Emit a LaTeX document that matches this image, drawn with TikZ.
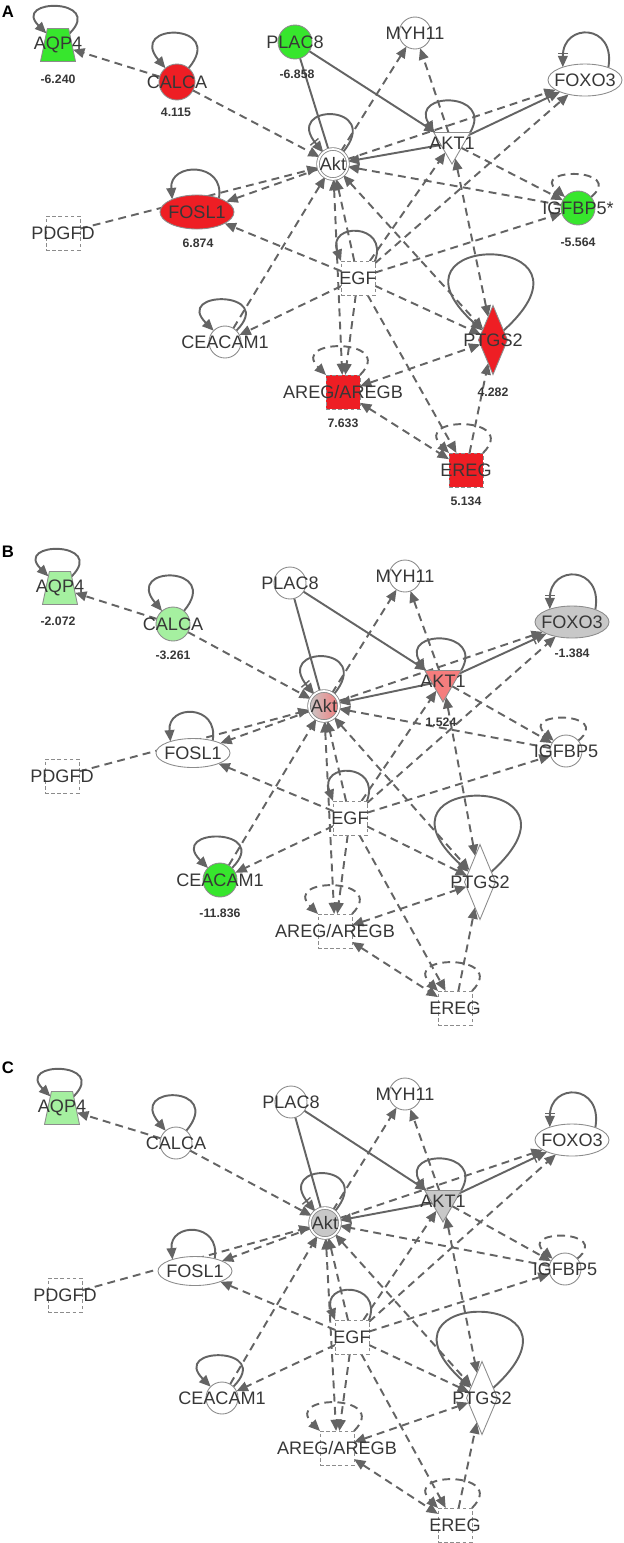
\documentclass[tikz,border=0pt]{standalone}
\usepackage{fontspec}
\setmainfont{Liberation Sans}
\usetikzlibrary{shapes.geometric,arrows.meta}
\definecolor{linkgray}{RGB}{100,100,100}
\definecolor{rimgray}{RGB}{140,140,140}
\definecolor{txtgray}{RGB}{55,55,55}
\definecolor{upred}{RGB}{238,30,36}
\definecolor{downgreen}{RGB}{55,230,45}
\definecolor{palegreen}{RGB}{165,240,160}
\definecolor{palered}{RGB}{245,125,125}
\definecolor{midgray}{RGB}{200,200,200}
\pgfdeclarelayer{links}
\pgfsetlayers{links,main}
\tikzset{gene/.style={draw=rimgray,line width=.5pt,fill=white,inner sep=0pt,outer sep=0pt},
 gname/.style={font=\fontsize{10.3}{12}\selectfont,text=txtgray,inner sep=0pt},
 gval/.style={font=\bfseries\fontsize{7}{8}\selectfont,text=txtgray,inner sep=0pt},
 circ/.style={gene,circle,minimum size=0.68cm},
 oval/.style={gene,ellipse,minimum width=1.48cm,minimum height=0.64cm},
 sqbox/.style={gene,rectangle,dash pattern=on 2pt off 1.5pt,minimum size=0.68cm},
 tri/.style={gene,regular polygon,regular polygon sides=3,shape border rotate=180,minimum size=0.84cm},
 dia/.style={gene,diamond,minimum width=0.58cm,minimum height=1.38cm},
 trap/.style={gene,trapezium,inner sep=1pt,trapezium left angle=72,trapezium right angle=72,minimum width=0.7cm,minimum height=0.66cm,trapezium stretches=true},
 hub/.style={gene,circle,double=white,double distance=1pt,minimum size=0.6cm},
 rel/.style={draw=linkgray,line width=1.1pt,>={Triangle[length=6.5pt,width=5.5pt]}},
 drel/.style={rel,dash pattern=on 4.5pt off 3pt},
 barhead/.style={-{Bar[width=6pt,line width=.8pt,sep=1pt]Triangle[length=6.5pt,width=5.5pt]}},
 panel/.style={font=\bfseries\fontsize{9.5}{11}\selectfont,inner sep=0pt}}

% the same set of relations in every panel
\newcommand{\netlinks}[1]{%
\begin{pgfonlayer}{links}
% self loops
\draw[rel,->] (#1AQP4) to[out=45,in=135,min distance=1cm] (#1AQP4);
\draw[rel,->] (#1CALCA) to[out=50,in=130,min distance=1.2cm] (#1CALCA);
\draw[rel,barhead] (#1Akt) to[out=50,in=130,min distance=1.3cm] (#1Akt);
\draw[rel,->] (#1AKT1.30) to[out=60,in=120,min distance=0.95cm] (#1AKT1.150);
\draw[rel,barhead] (#1FOXO3.28) to[out=80,in=90,min distance=0.9cm] (#1FOXO3.150);
\draw[rel,->] (#1FOSL1.32) to[out=80,in=95,min distance=0.75cm] (#1FOSL1.153);
\draw[rel,->] (#1EGF.45) to[out=70,in=110,min distance=0.82cm] (#1EGF.135);
\draw[rel,->] (#1CEACAM1) to[out=45,in=135,min distance=1.15cm] (#1CEACAM1);
\draw[rel,->] (#1PTGS2) to[out=42,in=138,min distance=3cm] (#1PTGS2);
\draw[drel,->] (#1IGFBP5) to[out=40,in=140,min distance=0.92cm] (#1IGFBP5);
\draw[drel,->] (#1AREG) to[out=45,in=135,min distance=1.05cm] (#1AREG);
\draw[drel,->] (#1EREG) to[out=45,in=135,min distance=1.05cm] (#1EREG);
% solid relations
\draw[rel] (#1PLAC8) -- (#1Akt);
\draw[rel,->] (#1PLAC8) -- (#1AKT1);
\draw[rel,->] (#1AKT1) -- (#1Akt);
\draw[rel,barhead] (#1AKT1) -- (#1FOXO3);
% dashed relations
\draw[drel,->] (#1CALCA) -- (#1AQP4);
\draw[drel,->] (#1CALCA) -- (#1Akt);
\draw[drel,->] (#1PDGFD) -- (#1Akt);
\draw[drel,->] (#1Akt) -- (#1FOSL1);
\draw[drel,->] (#1EGF) -- (#1FOSL1);
\draw[drel,->] (#1CEACAM1) -- (#1Akt);
\draw[drel,->] (#1EGF) -- (#1CEACAM1);
\draw[drel,->] (#1Akt) -- (#1MYH11);
\draw[drel,->] (#1AKT1) -- (#1MYH11);
\draw[drel,->] (#1Akt) -- (#1FOXO3);
\draw[drel,->] (#1EGF) -- (#1FOXO3);
\draw[drel,->] (#1EGF) -- (#1AKT1);
\draw[drel,<->] (#1AKT1) -- (#1PTGS2);
\draw[drel,->] (#1AKT1) -- (#1IGFBP5);
\draw[drel,->] (#1IGFBP5) -- (#1Akt);
\draw[drel,->] (#1EGF) -- (#1IGFBP5);
\draw[drel,->] (#1EGF) -- (#1Akt);
\draw[drel,<->] (#1Akt) -- (#1AREG);
\draw[drel,->] (#1EGF) -- (#1AREG);
\draw[drel,<->] (#1Akt) -- (#1PTGS2);
\draw[drel,->] (#1EGF) -- (#1PTGS2);
\draw[drel,<->] (#1AREG) -- (#1PTGS2);
\draw[drel,->] (#1EREG) -- (#1PTGS2);
\draw[drel,<->] (#1AREG) -- (#1EREG);
\draw[drel,->] (#1EGF) -- (#1EREG);
\end{pgfonlayer}}

\begin{document}
\begin{tikzpicture}[x=0.02cm,y=-0.02cm]
\useasboundingbox (0,0) rectangle (623,1543);
%% panel A
\node[panel] (labA) at (8,12) {A};
\node[trap,fill=downgreen,label={[gname]center:AQP4}] (AAQP4) at (58,45) {};
\node[gval] (vAAQP4) at (58,79) {-6.240};
\node[circ,minimum size=0.72cm,fill=upred,label={[gname]center:CALCA}] (ACALCA) at (177,82) {};
\node[gval] (vACALCA) at (176,112) {4.115};
\node[circ,fill=downgreen,label={[gname]center:PLAC8}] (APLAC8) at (295,42) {};
\node[gval] (vAPLAC8) at (297,74) {-6.858};
\node[circ,minimum size=0.64cm,label={[gname]center:MYH11}] (AMYH11) at (415,33) {};
\node[oval,label={[gname]center:FOXO3}] (AFOXO3) at (585,80) {};
\node[hub,label={[gname]center:Akt}] (AAkt) at (333,164) {};
\node[tri,label={[gname]center:AKT1}] (AAKT1) at (452,143) {};
\node[circ,fill=downgreen,label={[gname]center:IGFBP5*}] (AIGFBP5) at (578,208) {};
\node[gval] (vAIGFBP5) at (578,242) {-5.564};
\node[sqbox,label={[gname]center:PDGFD}] (APDGFD) at (63,233) {};
\node[oval,minimum height=0.68cm,fill=upred,label={[gname]center:FOSL1}] (AFOSL1) at (197,212) {};
\node[gval] (vAFOSL1) at (198,243) {6.874};
\node[sqbox,label={[gname]center:EGF}] (AEGF) at (358,278) {};
\node[circ,minimum size=0.64cm,label={[gname]center:CEACAM1}] (ACEACAM1) at (225,342) {};
\node[dia,fill=upred,label={[gname]center:PTGS2}] (APTGS2) at (493,340) {};
\node[gval] (vAPTGS2) at (493,392) {4.282};
\node[sqbox,fill=upred,label={[gname]center:AREG/AREGB}] (AAREG) at (343,392) {};
\node[gval] (vAAREG) at (343,423) {7.633};
\node[sqbox,fill=upred,label={[gname]center:EREG}] (AEREG) at (466,470) {};
\node[gval] (vAEREG) at (466,501) {5.134};
\netlinks{A}
%% panel B
\node[panel] (labB) at (8,552) {B};
\node[trap,fill=palegreen,label={[gname]center:AQP4}] (BAQP4) at (60,588) {};
\node[gval] (vBAQP4) at (58,621) {-2.072};
\node[circ,fill=palegreen,label={[gname]center:CALCA}] (BCALCA) at (173,624) {};
\node[gval] (vBCALCA) at (173,655) {-3.261};
\node[circ,minimum size=0.64cm,label={[gname]center:PLAC8}] (BPLAC8) at (290,583) {};
\node[circ,minimum size=0.64cm,label={[gname]center:MYH11}] (BMYH11) at (405,576) {};
\node[oval,fill=midgray,label={[gname]center:FOXO3}] (BFOXO3) at (572,622) {};
\node[gval] (vBFOXO3) at (572,653) {-1.384};
\node[hub,left color=midgray,right color=palered,label={[gname]center:Akt}] (BAkt) at (324,706) {};
\node[tri,fill=palered,label={[gname]center:AKT1}] (BAKT1) at (443,681) {};
\node[gval] (vBAKT1) at (441,722) {1.524};
\node[circ,minimum size=0.64cm,label={[gname]center:IGFBP5}] (BIGFBP5) at (566,751) {};
\node[sqbox,label={[gname]center:PDGFD}] (BPDGFD) at (62,776) {};
\node[oval,minimum height=0.58cm,label={[gname]center:FOSL1}] (BFOSL1) at (193,753) {};
\node[sqbox,label={[gname]center:EGF}] (BEGF) at (350,818) {};
\node[circ,fill=downgreen,label={[gname]center:CEACAM1}] (BCEACAM1) at (220,880) {};
\node[gval] (vBCEACAM1) at (220,913) {-11.836};
\node[dia,minimum width=0.62cm,minimum height=1.5cm,label={[gname]center:PTGS2}] (BPTGS2) at (480,882) {};
\node[sqbox,label={[gname]center:AREG/AREGB}] (BAREG) at (335,931) {};
\node[sqbox,label={[gname]center:EREG}] (BEREG) at (455,1008) {};
\netlinks{B}
%% panel C
\node[panel] (labC) at (8,1068) {C};
\node[trap,fill=palegreen,label={[gname]center:AQP4}] (CAQP4) at (62,1108) {};
\node[circ,minimum size=0.64cm,label={[gname]center:CALCA}] (CCALCA) at (176,1143) {};
\node[circ,minimum size=0.64cm,label={[gname]center:PLAC8}] (CPLAC8) at (291,1102) {};
\node[circ,minimum size=0.64cm,label={[gname]center:MYH11}] (CMYH11) at (405,1094) {};
\node[oval,label={[gname]center:FOXO3}] (CFOXO3) at (572,1140) {};
\node[hub,fill=midgray,label={[gname]center:Akt}] (CAkt) at (325,1223) {};
\node[tri,fill=midgray,label={[gname]center:AKT1}] (CAKT1) at (443,1201) {};
\node[circ,minimum size=0.64cm,label={[gname]center:IGFBP5}] (CIGFBP5) at (565,1269) {};
\node[sqbox,label={[gname]center:PDGFD}] (CPDGFD) at (65,1295) {};
\node[oval,minimum height=0.58cm,label={[gname]center:FOSL1}] (CFOSL1) at (195,1271) {};
\node[sqbox,label={[gname]center:EGF}] (CEGF) at (352,1337) {};
\node[circ,minimum size=0.64cm,label={[gname]center:CEACAM1}] (CCEACAM1) at (222,1398) {};
\node[dia,minimum width=0.62cm,minimum height=1.46cm,label={[gname]center:PTGS2}] (CPTGS2) at (482,1398) {};
\node[sqbox,label={[gname]center:AREG/AREGB}] (CAREG) at (337,1448) {};
\node[sqbox,label={[gname]center:EREG}] (CEREG) at (455,1525) {};
\netlinks{C}
\end{tikzpicture}
\end{document}
